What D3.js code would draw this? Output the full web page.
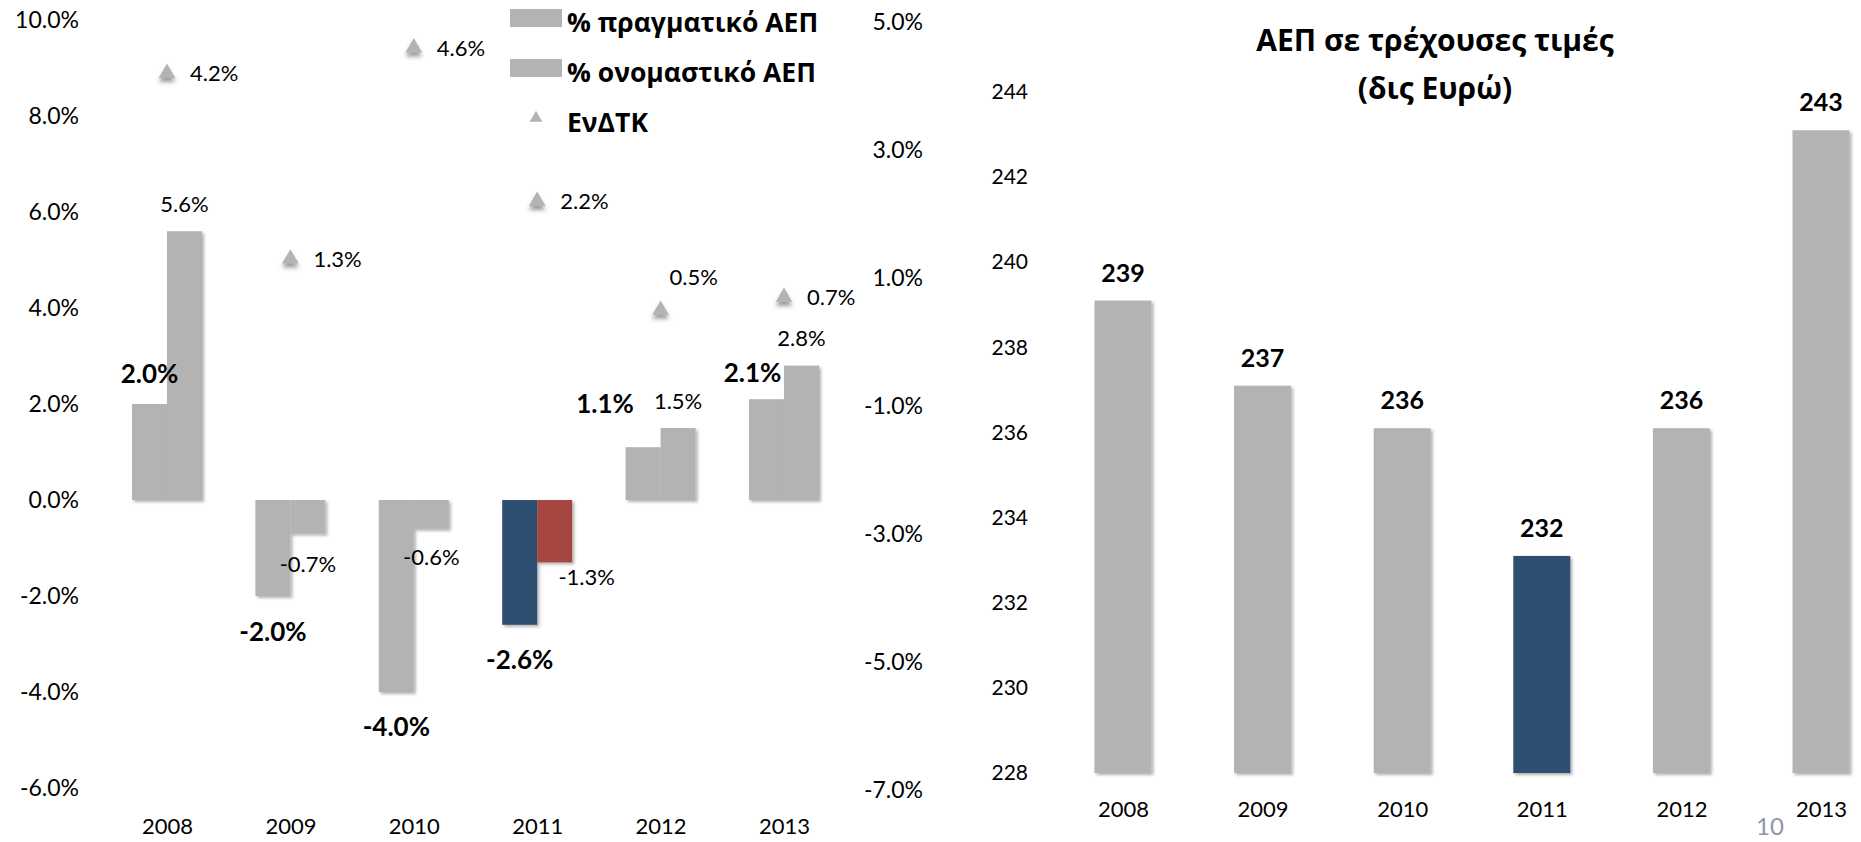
<!DOCTYPE html>
<html>
<head>
<meta charset="utf-8">
<script src="https://cdn.jsdelivr.net/npm/d3@7"></script>
<style>
  body { margin: 0; background: #fff; }
  svg text { font-family: Lato, "Open Sans", sans-serif; fill: #000; }
  .greek { font-family: "Open Sans", sans-serif; }
</style>
</head>
<body>
<svg id="chart" width="1861" height="842"></svg>
<script>
// data
const years = ["2008", "2009", "2010", "2011", "2012", "2013"];
const realGdp = [2.0, -2.0, -4.0, -2.6, 1.1, 2.1];
const nominalGdp = [5.6, -0.7, -0.6, -1.3, 1.5, 2.8];
const hicp = [4.2, 1.3, 4.6, 2.2, 0.5, 0.7];
const leftTicks = [-6, -4, -2, 0, 2, 4, 6, 8, 10];
const rightTicks = [-7, -5, -3, -1, 1, 3, 5];
const legendNames = ["% πραγματικό ΑΕΠ", "% ονομαστικό ΑΕΠ", "ΕνΔΤΚ"];

const gdpCurrent = [239.1, 237.1, 236.1, 233.1, 236.1, 243.1];
const gdpLabels = ["239", "237", "236", "232", "236", "243"];
const gdpTicks = [228, 230, 232, 234, 236, 238, 240, 242, 244];
const titleLines = ["ΑΕΠ σε τρέχουσες τιμές", "(δις Ευρώ)"];
const pageNumber = "10";
const highlightYear = "2011";

// label nudges (layout, as placed by hand in the original)
const realDx = [0, 0, 0, 0, -38, -14];
const realGap = [30, 36, 35, 35, 44, 27];
const nomDx = [0, 0, 0, 32, 0, 0];
const nomGap = [27, 30, 28, 15, 27, 28];

const grey = "#b3b3b3", blue = "#2f5071", red = "#a5473f";
const pct = v => v.toFixed(1) + "%";

const svg = d3.select("#chart");

const defs = svg.append("defs");
defs.append("filter").attr("id", "shadow")
    .attr("x", "-20%").attr("y", "-20%").attr("width", "150%").attr("height", "150%")
    .append("feDropShadow")
    .attr("dx", 2).attr("dy", 2).attr("stdDeviation", 1.5)
    .attr("flood-color", "#000").attr("flood-opacity", 0.3);
defs.append("filter").attr("id", "triShadow")
    .attr("x", "-50%").attr("y", "-50%").attr("width", "200%").attr("height", "220%")
    .append("feDropShadow")
    .attr("dx", 0).attr("dy", 4).attr("stdDeviation", 2)
    .attr("flood-color", "#555").attr("flood-opacity", 0.6);

// ---------- left chart ----------
const x = d3.scalePoint().domain(years).range([167, 784]);
const bw = 35;
const y = d3.scaleLinear().domain([-6, 10]).range([788, 20]);
const y2 = d3.scaleLinear().domain([-7, 5]).range([790, 22]);

svg.append("g")
    .attr("transform", "translate(79,0)")
    .call(d3.axisLeft(y).tickValues(leftTicks).tickSize(0).tickPadding(0).tickFormat(pct))
    .call(g => g.select(".domain").remove())
    .selectAll("text").attr("font-size", 23).attr("fill", "#000");

svg.append("g")
    .attr("transform", "translate(923,0)")
    .call(d3.axisLeft(y2).tickValues(rightTicks).tickSize(0).tickPadding(0).tickFormat(pct))
    .call(g => g.select(".domain").remove())
    .selectAll("text").attr("font-size", 23).attr("fill", "#000");

svg.append("g")
    .attr("transform", "translate(0,818)")
    .call(d3.axisBottom(x).tickSize(0).tickPadding(0))
    .call(g => g.select(".domain").remove())
    .selectAll("text").attr("font-size", 22).attr("fill", "#000");

const rows = years.map((yr, i) => ({yr, i, real: realGdp[i], nom: nominalGdp[i], cpi: hicp[i]}));

const bars = svg.append("g");
bars.selectAll(".real").data(rows).join("rect")
    .attr("x", d => x(d.yr) - bw)
    .attr("width", bw)
    .attr("y", d => y(Math.max(0, d.real)))
    .attr("height", d => Math.abs(y(d.real) - y(0)))
    .attr("fill", d => d.yr === highlightYear ? blue : grey)
    .attr("filter", "url(#shadow)");
bars.selectAll(".nom").data(rows).join("rect")
    .attr("x", d => x(d.yr))
    .attr("width", bw)
    .attr("y", d => y(Math.max(0, d.nom)))
    .attr("height", d => Math.abs(y(d.nom) - y(0)))
    .attr("fill", d => d.yr === highlightYear ? red : grey)
    .attr("filter", "url(#shadow)");

const tri = d3.symbol().type(d3.symbolTriangle);
svg.append("g").selectAll("path").data(rows).join("path")
    .attr("d", tri.size(120))
    .attr("transform", d => `translate(${x(d.yr)},${y2(d.cpi)})`)
    .attr("fill", grey)
    .attr("filter", "url(#triShadow)");

// labels
svg.append("g").selectAll("text").data(rows).join("text")
    .attr("x", d => x(d.yr) - bw / 2 + realDx[d.i])
    .attr("y", d => d.real >= 0 ? y(d.real) - realGap[d.i] : y(d.real) + realGap[d.i])
    .attr("dy", "0.36em")
    .attr("text-anchor", "middle")
    .attr("font-size", 26).attr("font-weight", "bold")
    .text(d => pct(d.real));

svg.append("g").selectAll("text").data(rows).join("text")
    .attr("x", d => x(d.yr) + bw / 2 + nomDx[d.i])
    .attr("y", d => d.nom >= 0 ? y(d.nom) - nomGap[d.i] : y(d.nom) + nomGap[d.i])
    .attr("dy", "0.36em")
    .attr("text-anchor", "middle")
    .attr("font-size", 22)
    .text(d => pct(d.nom));

svg.append("g").selectAll("text").data(rows).join("text")
    .attr("x", d => x(d.yr) + (d.yr === "2012" ? 9 : 23))
    .attr("y", d => y2(d.cpi) + (d.yr === "2012" ? -33 : 0))
    .attr("dy", "0.36em")
    .attr("font-size", 22)
    .text(d => pct(d.cpi));

// legend
const legend = svg.append("g").attr("transform", "translate(510,0)");
legendNames.forEach((name, i) => {
    const cy = 22 + i * 50;
    if (i < 2) {
        legend.append("rect").attr("x", 0).attr("y", cy - 13).attr("width", 52).attr("height", 18).attr("fill", grey);
    } else {
        legend.append("path").attr("d", d3.symbol().type(d3.symbolTriangle).size(70)())
            .attr("transform", `translate(26,${cy - 4})`).attr("fill", grey);
    }
    legend.append("text").attr("class", "greek")
        .attr("x", 57).attr("y", cy).attr("dy", "0.36em")
        .attr("font-size", 26.5).attr("font-weight", "bold")
        .text(name);
});

// ---------- right chart ----------
const xr = d3.scalePoint().domain(years).range([1123, 1821]);
const bwr = 57;
const yr = d3.scaleLinear().domain([228, 244]).range([773, 92]);

svg.append("g")
    .attr("transform", "translate(1028,0)")
    .call(d3.axisLeft(yr).tickValues(gdpTicks).tickSize(0).tickPadding(0).tickFormat(d3.format("d")))
    .call(g => g.select(".domain").remove())
    .selectAll("text").attr("font-size", 21).attr("fill", "#000");

svg.append("g")
    .attr("transform", "translate(0,801)")
    .call(d3.axisBottom(xr).tickSize(0).tickPadding(0))
    .call(g => g.select(".domain").remove())
    .selectAll("text").attr("font-size", 22).attr("fill", "#000");

const gdpRows = years.map((yr_, i) => ({yr: yr_, v: gdpCurrent[i], lab: gdpLabels[i]}));
svg.append("g").selectAll("rect").data(gdpRows).join("rect")
    .attr("x", d => xr(d.yr) - bwr / 2)
    .attr("width", bwr)
    .attr("y", d => yr(d.v))
    .attr("height", d => yr(228) - yr(d.v))
    .attr("fill", d => d.yr === highlightYear ? blue : grey)
    .attr("filter", "url(#shadow)");

svg.append("g").selectAll("text").data(gdpRows).join("text")
    .attr("x", d => xr(d.yr))
    .attr("y", d => yr(d.v) - 28)
    .attr("dy", "0.36em")
    .attr("text-anchor", "middle")
    .attr("font-size", 25).attr("font-weight", "bold")
    .text(d => d.lab);

svg.append("g").selectAll("text").data(titleLines).join("text")
    .attr("class", "greek")
    .attr("x", 1435)
    .attr("y", (d, i) => 40 + i * 48)
    .attr("dy", "0.36em")
    .attr("text-anchor", "middle")
    .attr("font-size", 30).attr("font-weight", "bold")
    .text(d => d);

svg.append("text")
    .attr("x", 1770).attr("y", 826).attr("dy", "0.36em")
    .attr("text-anchor", "middle")
    .attr("font-size", 24)
    .style("fill", "#8c95aa")
    .text(pageNumber);
</script>
</body>
</html>
